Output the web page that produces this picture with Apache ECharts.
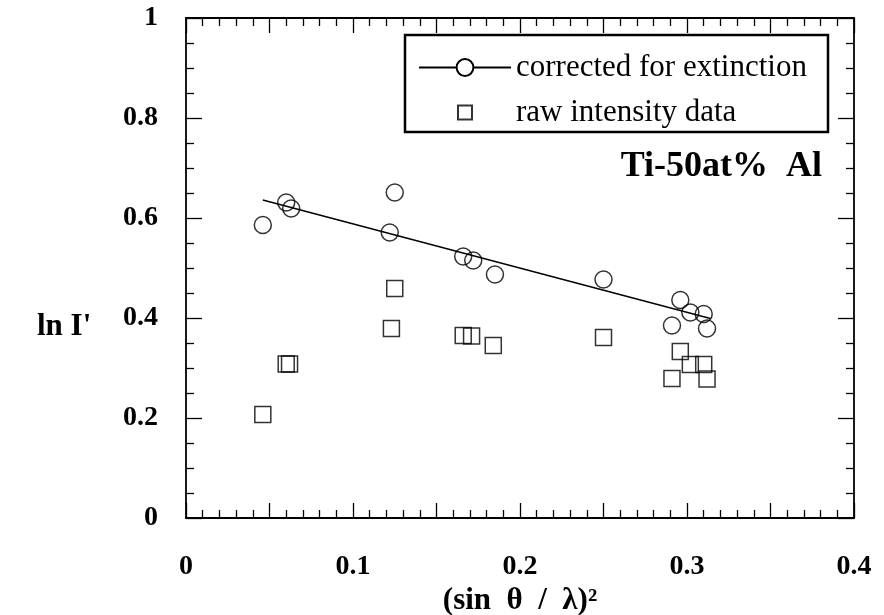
<!DOCTYPE html>
<html>
<head>
<meta charset="utf-8">
<script src="https://cdn.jsdelivr.net/npm/echarts@6/dist/echarts.min.js"></script>
<style>
  html, body { margin: 0; padding: 0; background: #fff; }
  #chart { width: 884px; height: 615px; }
</style>
</head>
<body>
<div id="chart"></div>
<script>
// ---- data ----
const correctedX = [0.046, 0.060, 0.063, 0.125, 0.122, 0.166, 0.172, 0.185, 0.250, 0.296, 0.302, 0.310, 0.291, 0.312];
const correctedY = [0.586, 0.631, 0.619, 0.651, 0.571, 0.523, 0.515, 0.487, 0.477, 0.436, 0.411, 0.408, 0.385, 0.379];
const rawX = [0.046, 0.060, 0.062, 0.125, 0.123, 0.166, 0.171, 0.184, 0.250, 0.296, 0.302, 0.310, 0.291, 0.312];
const rawY = [0.207, 0.308, 0.308, 0.459, 0.379, 0.365, 0.364, 0.345, 0.361, 0.333, 0.307, 0.307, 0.279, 0.278];
const fitX = [0.046, 0.314];
const fitY = [0.636, 0.399];
const xTickValues = [0, 0.1, 0.2, 0.3, 0.4];
const xTickLabels = ['0', '0.1', '0.2', '0.3', '0.4'];
const yTickValues = [0, 0.2, 0.4, 0.6, 0.8, 1];
const yTickLabels = ['0', '0.2', '0.4', '0.6', '0.8', '1'];
const seriesNames = ['corrected for extinction', 'raw intensity data'];
const xAxisTitle = '(sin  θ  /  λ)²';
const yAxisTitle = "ln I'";
const annotation = 'Ti-50at%  Al';

const pairs = (xs, ys) => xs.map((x, i) => [x, ys[i]]);
const serif = '"Liberation Serif", "Times New Roman", serif';

function labelFor(values, labels) {
  return function (v) {
    for (let i = 0; i < values.length; i++) {
      if (Math.abs(v - values[i]) < 1e-9) return labels[i];
    }
    return '';
  };
}

const axisLineStyle = { color: '#000', width: 1.8 };
const tickStyle = { color: '#000', width: 1.3 };

function xAxisDef(pos, showLabel) {
  return {
    type: 'value', position: pos, min: 0, max: 0.4, interval: 0.05,
    axisLine: { show: true, onZero: false, lineStyle: axisLineStyle },
    axisTick: { show: true, inside: true, length: 15, lineStyle: tickStyle },
    minorTick: { show: true, splitNumber: 5, length: 8, lineStyle: tickStyle },
    splitLine: { show: false }, minorSplitLine: { show: false },
    axisLabel: showLabel ? {
      show: true, margin: 35, color: '#000', fontFamily: serif, fontWeight: 'bold', fontSize: 28,
      formatter: labelFor(xTickValues, xTickLabels)
    } : { show: false },
    name: showLabel ? xAxisTitle : '',
    nameLocation: 'middle', nameGap: 66,
    nameTextStyle: { color: '#000', fontFamily: serif, fontWeight: 'bold', fontSize: 31 }
  };
}
function yAxisDef(pos, showLabel) {
  return {
    type: 'value', position: pos, min: 0, max: 1, interval: 0.2,
    axisLine: { show: true, onZero: false, lineStyle: axisLineStyle },
    axisTick: { show: true, inside: true, length: 16, lineStyle: tickStyle },
    minorTick: { show: true, splitNumber: 4, length: 8, lineStyle: tickStyle },
    splitLine: { show: false }, minorSplitLine: { show: false },
    axisLabel: showLabel ? {
      show: true, margin: 28, color: '#000', fontFamily: serif, fontWeight: 'bold', fontSize: 28,
      formatter: labelFor(yTickValues, yTickLabels)
    } : { show: false }
  };
}

const markStyle = { color: 'rgba(0,0,0,0)', borderColor: '#000', borderWidth: 1.5 };

const chart = echarts.init(document.getElementById('chart'), null, { renderer: 'canvas' });
chart.setOption({
  backgroundColor: '#fff',
  animation: false,
  grid: { left: 186, right: 30, top: 18, bottom: 97, containLabel: false, outerBoundsMode: 'none' },
  xAxis: [xAxisDef('bottom', true), xAxisDef('top', false)],
  yAxis: [yAxisDef('left', true), yAxisDef('right', false)],
  legend: [
    {
      data: [seriesNames[0]], left: 418, top: 52, padding: 0,
      itemWidth: 92, itemHeight: 21, selectedMode: false,
      textStyle: { color: '#000', fontFamily: serif, fontSize: 31 }
    },
    {
      data: [{ name: seriesNames[1], icon: 'rect' }],
      left: 457, top: 97, padding: 0,
      itemWidth: 14, itemHeight: 14, selectedMode: false,
      textStyle: { color: '#000', fontFamily: serif, fontSize: 31, padding: [0, 0, 0, 39] }
    }
  ],
  graphic: [
    { type: 'rect', shape: { x: 405, y: 35, width: 423, height: 97 },
      style: { fill: 'rgba(0,0,0,0)', stroke: '#000', lineWidth: 2.5 }, z: 100 },
    { type: 'text', x: 822, y: 167,
      style: { text: annotation, align: 'right', verticalAlign: 'middle', fill: '#000',
               font: 'bold 36px "Liberation Serif", "Times New Roman", serif' }, z: 100 },
    { type: 'text', x: 37, y: 327,
      style: { text: yAxisTitle, align: 'left', verticalAlign: 'middle', fill: '#000',
               font: 'bold 31px "Liberation Serif", "Times New Roman", serif' }, z: 100 }
  ],
  series: [
    {
      name: seriesNames[0], type: 'line', data: pairs(fitX, fitY),
      symbol: 'emptyCircle', symbolSize: 17, showSymbol: false,
      lineStyle: { color: '#000', width: 1.3 }, itemStyle: { color: '#000' },
      silent: true
    },
    {
      name: 'corrected points', type: 'scatter', data: pairs(correctedX, correctedY),
      symbol: 'circle', symbolSize: 17, itemStyle: markStyle, silent: true
    },
    {
      name: seriesNames[1], type: 'scatter', data: pairs(rawX, rawY),
      symbol: 'rect', symbolSize: 16, itemStyle: markStyle, silent: true
    }
  ]
});
</script>
</body>
</html>
